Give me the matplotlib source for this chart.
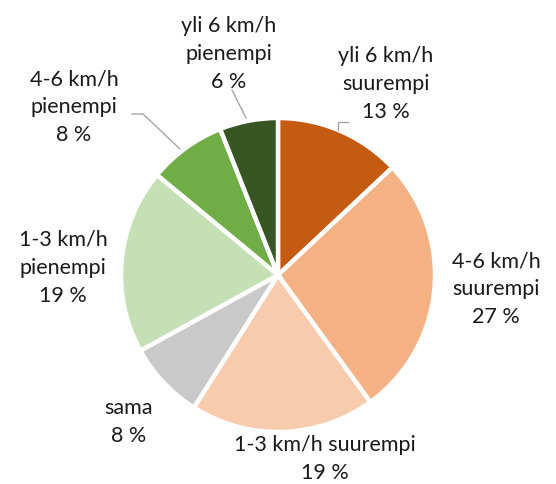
import matplotlib
matplotlib.use("Agg")
import matplotlib.pyplot as plt
import numpy as np

labels = ['yli 6 km/h\nsuurempi', '4-6 km/h\nsuurempi', '1-3 km/h suurempi',
          'sama', '1-3 km/h\npienempi', '4-6 km/h\npienempi', 'yli 6 km/h\npienempi']
shares = [13, 27, 19, 8, 19, 8, 6]
colors = ['#C55A11', '#F4B183', '#F8CBAD', '#C9C9C9', '#C5E0B4', '#70AD47', '#375623']

# label centres (pixel coords, y up) and leader elbows
label_pos = [(386, 400), (496, 195), (325, 25), (129, 62), (63, 216), (74, 377), (229, 430)]
leaders = {0: [(338, 484 - 130), (338, 484 - 122), (348, 484 - 122)],
           5: [(180, 484 - 149), (143, 484 - 114), (132, 484 - 114)],
           6: [(246, 484 - 118), (232, 484 - 90)]}

plt.rcParams['font.family'] = ['Lato', 'DejaVu Sans']

fig = plt.figure(figsize=(5.56, 4.84), dpi=100)
ax = fig.add_axes([0, 0, 1, 1])

cx, cy, r = 278, 209, 157
wedges, _ = ax.pie(shares, colors=colors, startangle=90, counterclock=False,
                   center=(cx, cy), radius=r, frame=True,
                   wedgeprops=dict(edgecolor='white', linewidth=3.2))
ax.set_xlim(0, 556)
ax.set_ylim(0, 484)
ax.set_aspect('equal')
ax.axis('off')

for i, (lab, v) in enumerate(zip(labels, shares)):
    x, y = label_pos[i]
    ax.text(x, y, f'{lab}\n{v} %', ha='center', va='center', fontsize=15.5,
            color='#1a1a1a', linespacing=1.5)

for i, pts in leaders.items():
    xs, ys = zip(*pts)
    ax.plot(xs, ys, color='#A6A6A6', lw=1.0)

fig.savefig('out.png', dpi=100)
